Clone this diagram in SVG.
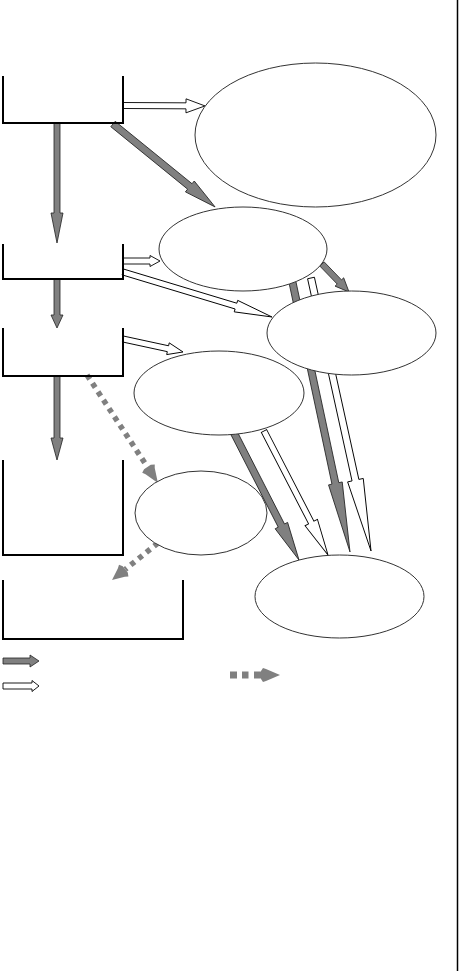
<svg xmlns="http://www.w3.org/2000/svg" width="459" height="971" viewBox="0 0 459 971">
<style>
.bx{fill:none;stroke:#000;stroke-width:2}
.el{fill:#fff;stroke:#333;stroke-width:1}
.dk{fill:#808080;stroke:#222;stroke-width:0.8;stroke-linejoin:miter}
.hl{fill:#fff;stroke:#000;stroke-width:0.9}
.dt{stroke:#808080;stroke-width:5.5;stroke-dasharray:5 5;fill:none}
.dh{fill:#808080;stroke:none}
</style>
<rect width="459" height="971" fill="#fff"/>
<g id="connectors">
<polygon class="hl" transform="translate(123,105.5) rotate(0.3)" points="0,-3 63,-3 63,-7 82,0 63,7 63,3 0,3"/>
<polygon class="dk" transform="translate(57,123) rotate(90)" points="0,-3 90,-3 90,-6 120,0 90,6 90,3 0,3"/>
<polygon class="dk" transform="translate(113,124) rotate(39.1)" points="0,-3.5 99,-3.5 99,-7 131.5,0 99,7 99,3.5 0,3.5"/>
<polygon class="hl" transform="translate(123,261) rotate(0)" points="0,-3 27,-3 27,-5.5 37,0 27,5.5 27,3 0,3"/>
<polygon class="hl" transform="translate(123,272) rotate(16.8)" points="0,-3 118,-3 118,-6 155.6,0 118,6 118,3 0,3"/>
<polygon class="dk" transform="translate(57,279) rotate(90)" points="0,-3 36,-3 36,-6 49,0 36,6 36,3 0,3"/>
<polygon class="hl" transform="translate(123,339) rotate(12.2)" points="0,-3 46,-3 46,-6 61.4,0 46,6 46,3 0,3"/>
<polygon class="dk" transform="translate(57,376) rotate(90)" points="0,-3 62,-3 62,-6 84,0 62,6 62,3 0,3"/>
<g transform="translate(87,375) rotate(56.7)">
<line class="dt" x1="0" y1="0" x2="110" y2="0"/>
<polygon class="dh" points="110,-4 112,-7.5 115,-5.5 129.2,0 115,5.5 112,7.5 110,4"/>
</g>
<g transform="translate(158,543) rotate(141.2)">
<line class="dt" x1="0" y1="0" x2="42" y2="0"/>
<polygon class="dh" points="42,-4 44,-7.5 47,-5.5 59,0 47,5.5 44,7.5 42,4"/>
</g>
<polygon class="dk" transform="translate(322,264) rotate(46)" points="0,-3 25,-3 25,-6 38.9,0 25,6 25,3 0,3"/>
<polygon class="dk" transform="translate(292,280) rotate(77.96)" points="0,-3.5 208,-3.5 208,-7 278.1,0 208,7 208,3.5 0,3.5"/>
<polygon class="hl" transform="translate(311,278) rotate(77.6)" points="0,-3.5 207,-3.5 207,-8 279.5,0 207,8 207,3.5 0,3.5"/>
<polygon class="dk" transform="translate(234,433) rotate(62.9)" points="0,-3.5 104,-3.5 104,-7 142.7,0 104,7 104,3.5 0,3.5"/>
<polygon class="hl" transform="translate(264,431) rotate(62.7)" points="0,-3 103,-3 103,-7 139.5,0 103,7 103,3 0,3"/>
</g>
<g id="box1"><polyline class="bx" points="3,76 3,123 123,123 123,76"/></g>
<g id="box2"><polyline class="bx" points="3,244 3,279 123,279 123,244"/></g>
<g id="box3"><polyline class="bx" points="3,328 3,376 123,376 123,328"/></g>
<g id="box4"><polyline class="bx" points="3,460 3,555 123,555 123,460"/></g>
<g id="box5"><polyline class="bx" points="3,580 3,639 183,639 183,580"/></g>
<g id="e1"><ellipse class="el" cx="315.5" cy="135" rx="120.5" ry="72"/></g>
<g id="e2"><ellipse class="el" cx="243" cy="249" rx="84" ry="42"/></g>
<g id="e3"><ellipse class="el" cx="351.5" cy="333" rx="84.5" ry="42"/></g>
<g id="e4"><ellipse class="el" cx="219" cy="393" rx="85" ry="42"/></g>
<g id="e5"><ellipse class="el" cx="201" cy="513" rx="66" ry="42"/></g>
<g id="e6"><ellipse class="el" cx="339.5" cy="596.5" rx="84.5" ry="41.5"/></g>
<g id="legend">
<polygon class="dk" points="3,658 30,658 30,655 39,661 30,667 30,664 3,664"/>
<polygon class="hl" points="3,683 32,683 32,680.5 39,686 32,691.5 32,689 3,689"/>
<rect class="dh" x="230" y="671.5" width="7" height="7"/>
<rect class="dh" x="242" y="671.5" width="6.5" height="7"/>
<rect class="dh" x="254" y="671.5" width="7" height="7"/>
<polygon class="dh" points="261,671 263,668 266,669 280,675 266,681 263,682 261,679"/>
</g>
<line x1="457.5" y1="0" x2="457.5" y2="971" stroke="#000" stroke-width="1.5"/>
</svg>
